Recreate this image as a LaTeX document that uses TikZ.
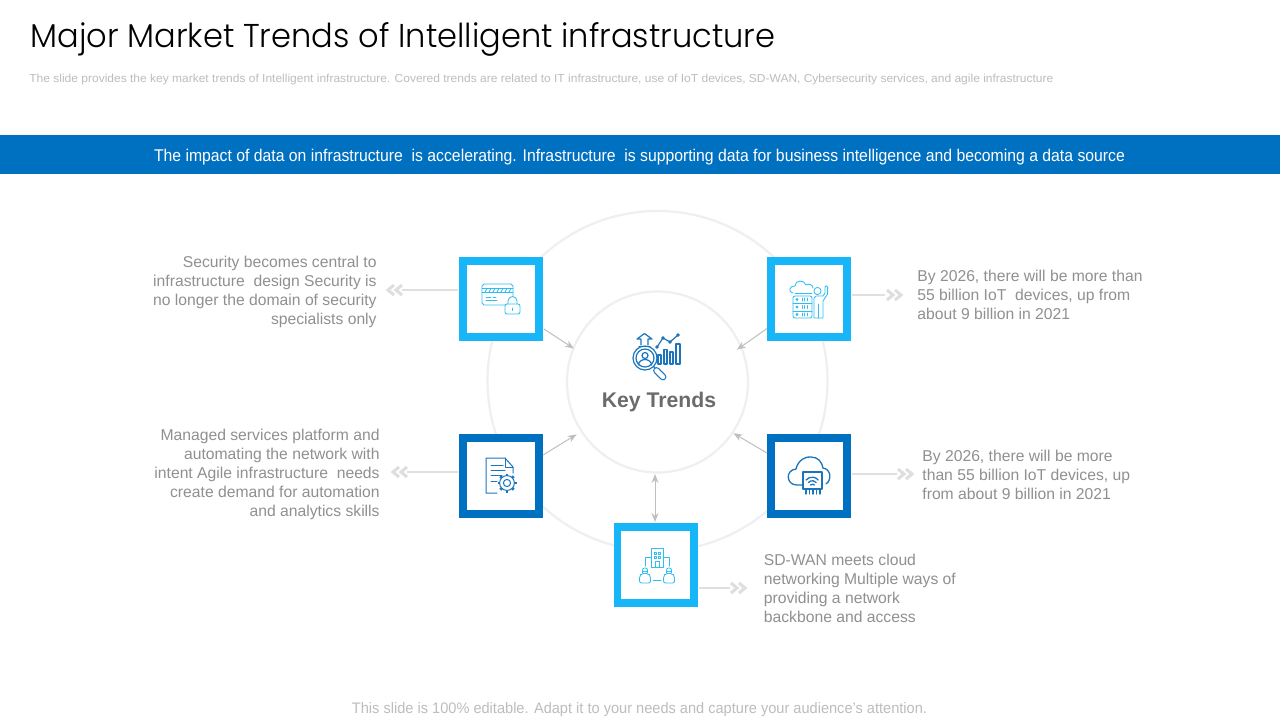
\documentclass[tikz,border=0pt]{standalone}
\usepackage{fontspec}
\usepackage{graphicx}
\setmainfont{Liberation Sans}
\newfontfamily\titlef{Poppins Light}
\usetikzlibrary{arrows.meta}
\definecolor{lblue}{HTML}{17B6F8}
\definecolor{dblue}{HTML}{0070C0}
\definecolor{icl}{HTML}{2FBEF2}
\definecolor{icd}{HTML}{1B75BC}
\definecolor{bodygray}{HTML}{909090}
\definecolor{palegray}{HTML}{BDBDBD}
\definecolor{ringgray}{HTML}{EFEFEF}
\definecolor{chevgray}{HTML}{DEDEDE}
\definecolor{linegray}{HTML}{E0E0E0}
\definecolor{arrgray}{HTML}{BFBFBF}
\newcommand\fitw[2]{\resizebox{#1}{\height}{#2}}
\newcommand\chevR[2]{%
  \draw[chevstroke] (#1,#2-5) -- (#1+6,#2) -- (#1,#2+5);
  \draw[chevstroke] (#1+8,#2-5) -- (#1+14,#2) -- (#1+8,#2+5);}
\newcommand\chevL[2]{%
  \draw[chevstroke] (#1+6,#2-5) -- (#1,#2) -- (#1+6,#2+5);
  \draw[chevstroke] (#1+14,#2-5) -- (#1+8,#2) -- (#1+14,#2+5);}
\tikzset{
  tile/.style={draw=#1,line width=3.8pt,fill=white,minimum size=38.2pt,inner sep=0pt,rectangle},
  ringline/.style={draw=ringgray,line width=1.1pt},
  chevstroke/.style={draw=chevgray,line width=1.5pt},
  sideline/.style={draw=linegray,line width=0.55pt},
  flow/.style={draw=arrgray,line width=0.5pt,-{Stealth[length=4.5pt,width=3.5pt]}},
  bothflow/.style={draw=arrgray,line width=0.5pt,{Stealth[length=4.5pt,width=3.5pt]}-{Stealth[length=4.5pt,width=3.5pt]}},
  bodytext/.style={text=bodygray,inner sep=0pt,font=\fontsize{7.85}{9.5}\selectfont},
  icL/.style={draw=icl,line width=0.42pt,line join=round,line cap=round},
  icD/.style={draw=icd,line width=0.5pt,line join=round,line cap=round},
}
\begin{document}
\begin{tikzpicture}[x=0.5pt,y=-0.5pt]
\useasboundingbox (0,0) rectangle (1280,720);
\fill[white] (0,0) rectangle (1280,720);
% header
\node[anchor=west,inner sep=0pt,text=black] (title) at (30,39) {\fitw{372.5pt}{\titlef\fontsize{16.5}{20}\selectfont Major Market Trends of Intelligent infrastructure}};
\node[anchor=west,inner sep=0pt,text=palegray] (sub) at (29,79) {\fitw{512pt}{\fontsize{5.8}{7}\selectfont The slide provides the key market trends of Intelligent infrastructure. Covered trends are related to IT infrastructure, use of IoT devices, SD-WAN, Cybersecurity services, and agile infrastructure}};
\fill[dblue] (0,135) rectangle (1280,174);
\node[inner sep=0pt,text=white] (banner) at (639.5,157) {\fitw{485.5pt}{\fontsize{8.5}{10}\selectfont The impact of data on infrastructure\ \ is accelerating. Infrastructure\ \ is supporting data for business intelligence and becoming a data source}};
% rings
\node[circle,minimum size=170pt,inner sep=0pt,ringline] (outer) at (657.5,381) {};
\node[circle,minimum size=90.5pt,inner sep=0pt,ringline,fill=white] (c) at (657.5,382) {};
\node[inner sep=0pt,text=black!58,font=\fontsize{10.6}{13}\selectfont\bfseries] (kt) at (659,402) {Key Trends};
% tiles
\node[tile=lblue] (tl) at (501,299) {};
\node[tile=lblue] (tr) at (809,299) {};
\node[tile=dblue] (ml) at (501,476) {};
\node[tile=dblue] (mr) at (809,476) {};
\node[tile=lblue] (bt) at (655.5,565) {};
% arrows to centre
\coordinate (tlo) at (544,329);
\coordinate (tro) at (767,328.5);
\coordinate (mlo) at (543,455);
\coordinate (mro) at (767,453);
\coordinate (bto) at (655,522);
\draw[flow,shorten >=-0.8pt] (tlo) -- (c.158);
\draw[flow,shorten >=-3pt] (tro) -- (c.23);
\draw[flow,shorten >=2.4pt] (mlo) -- (c.213);
\draw[flow] (mro) -- (c.-34);
\draw[bothflow] (bto) -- (655,474);
% side lines
\coordinate (a1) at (402,290);\coordinate (s1) at (458,290);
\coordinate (a2) at (885,295);\coordinate (s2) at (852,295);
\coordinate (a3) at (407,472);\coordinate (s3) at (458,472);
\coordinate (a4) at (897,474);\coordinate (s4) at (852,474);
\coordinate (a5) at (730,588);\coordinate (s5) at (699,588);
\draw[sideline] (s1) -- (a1);
\draw[sideline] (s2) -- (a2);
\draw[sideline] (s3) -- (a3);
\draw[sideline] (s4) -- (a4);
\draw[sideline] (s5) -- (a5);
\chevL{388}{290}
\chevR{887}{295}
\chevL{393}{472}
\chevR{898}{474}
\chevR{731}{588}
% texts
\node[bodytext,anchor=east,align=right] (t1) at (377,291.5) {Security becomes central to\\infrastructure\ \ design Security is\\no longer the domain of security\\specialists only};
\node[bodytext,anchor=west,align=left] (t2) at (917,295) {By 2026, there will be more than\\55 billion IoT\ \ devices, up from\\about 9 billion in 2021};
\node[bodytext,anchor=east,align=right] (t3) at (380,474.5) {Managed services platform and\\automating the network with\\intent Agile infrastructure\ \ needs\\create demand for automation\\and analytics skills};
\node[bodytext,anchor=west,align=left] (t4) at (922,475) {By 2026, there will be more\\than 55 billion IoT devices, up\\from about 9 billion in 2021};
\node[bodytext,anchor=west,align=left] (t5) at (763.5,588) {SD-WAN meets cloud\\networking Multiple ways of\\providing a network\\backbone and access};
\node[inner sep=0pt,text=palegray] (foot) at (639.5,709.5) {\fitw{287.5pt}{\fontsize{7.6}{9}\selectfont This slide is 100\% editable. Adapt it to your needs and capture your audience's attention.}};
% ---- icon: card + lock
\begin{scope}[icL]
\draw (505,305) -- (484,305) -- ++(-2,-2) -- (482,286) -- ++(2,-2) -- (511,284) -- ++(2,2) -- (513,296);
\draw (482,288) -- (513,288) (482,292.5) -- (513,292.5);
\foreach \x in {485,489,...,511} \draw (\x,292) -- (\x+2,288.5);
\draw (486,297) -- (491,297) (493,297) -- (496,297) (486,300) -- (497,300);
\draw[rounded corners=1pt] (505,304) rectangle (520,314);
\draw (508,304) -- (508,301) arc (180:360:4.5) -- (517,304);
\draw (512.5,308) -- (512.5,310.5);
\end{scope}
% ---- icon: cloud, server, person
\begin{scope}[icL]
\draw (793,293) .. controls (788,293) and (789,285) .. (795,286)
  .. controls (795,280) and (804,279) .. (806,285)
  .. controls (809,283) and (813,285) .. (813,288);
\draw (795,293) -- (812,293);
\draw[rounded corners=1pt] (793,296) rectangle (812,318);
\draw (793,303) -- (812,303) (793,311) -- (812,311);
\foreach \y in {299.5,307,314.5} {\draw (797,\y) circle (1); \draw (802,\y-1.5) -- (802,\y+1.5) (804.5,\y-1.5) -- (804.5,\y+1.5) (807,\y-1.5) -- (807,\y+1.5);}
\draw (817.5,291) circle (3.6);
\draw (814,318) -- (814,298) -- ++(2,-2) -- (823,296) -- (825,293) -- (825,287) arc (180:360:1.3) -- (827.6,294) -- (823,301) -- (823,318) -- cycle;
\draw (818.5,304) -- (818.5,318);
\end{scope}
% ---- icon: document + gear
\begin{scope}[icD]
\draw (497,493) -- (486,493) -- (486,458) -- (505,458) -- (513,467) -- (513,473);
\draw (505,458) -- (505,467) -- (513,467);
\draw (491,465) -- (503,465) (491,470) -- (505,470) (491,475.5) -- (502,475.5) (491,481) -- (497,481);
\foreach \a in {0,45,...,315} \draw[line width=1.3pt,line cap=butt] (507,483)++(\a:7.4) -- ++(\a:2.1);
\draw (507,483) circle (7.4);
\draw (507,483) circle (3.6);
\end{scope}
% ---- icon: cloud + chip
\begin{scope}[icD,line width=0.65pt]
\draw (803,485) -- (797,485) .. controls (786,485) and (785,470) .. (796,469)
  .. controls (798,460) and (806,456) .. (811,457)
  .. controls (818,457) and (822,462) .. (823,468)
  .. controls (831,469) and (832,480) .. (826,484);
\draw (803,472) -- (822,472) -- (822,489) -- (803,489) -- cycle;
\draw (806,489) -- (806,494) (809.5,489) -- (809.5,494) (813,489) -- (813,494) (816.5,489) -- (816.5,494) (820,489) -- (820,494);
\draw (806,480) arc (220:320:8);
\draw (808.5,482.5) arc (220:320:5);
\draw (810.5,485) arc (220:320:2.5);
\end{scope}
% ---- icon: network
\begin{scope}[icL]
\draw (651,567) -- (651,548) -- (663,548) -- (663,567) -- cycle;
\draw (654,552) rectangle (656,554) (658,552) rectangle (660,554) (654,556.5) rectangle (656,558.5) (658,556.5) rectangle (660,558.5);
\draw (655,567) -- (655,561.5) -- (659,561.5) -- (659,567);
\draw (651,557) -- (645,557) -- (645,566);
\draw (663,557) -- (669,557) -- (669,566);
\foreach \x in {645,669} {
  \draw[rounded corners=1pt] (\x-2.5,573) -- (\x-2.5,568) -- (\x+2.5,568) -- (\x+2.5,573);
  \draw (\x-2.5,571) -- (\x+2.5,571);
  \draw[rounded corners=1pt] (\x-5.5,583) -- (\x-5.5,576) -- ++(2,-2.5) -- (\x+3.5,573.5) -- ++(2,2.5) -- (\x+5.5,583) -- cycle;
}
\draw (653,580) -- (661,580);
\end{scope}
% ---- icon: key trends
\begin{scope}[icD,line width=0.6pt]
\draw (641,345) -- (641,339) -- (637,339) -- (644.5,333.5) -- (652,339) -- (648,339) -- (648,345);
\draw (639,346.5) -- (650,346.5);
\draw (645,358) circle (12);
\draw (645,358) circle (9);
\draw (645,355.5) circle (3);
\draw (638.5,365) arc (180:360:6.5 and 5.5);
\draw (653.5,366.5) -- (656,369);
\draw[line width=3.4pt] (656.5,370.5) -- (663,377);
\draw[draw=white,line width=2.2pt] (656.5,370.5) -- (663,377);
\draw (657,347) -- (663,338) -- (670,342) -- (678,335);
\foreach \p in {(657,347),(663,338),(670,342),(678,335)} \draw[fill=white] \p circle (1.3);
\draw (658,364) -- (658,355) -- (661,355) -- (661,364) -- cycle;
\draw (664,364) -- (664,349.5) -- (667,349.5) -- (667,364) -- cycle;
\draw (670,364) -- (670,352) -- (673,352) -- (673,364) -- cycle;
\draw (676,364) -- (676,344) -- (680,344) -- (680,364) -- cycle;
\end{scope}
\end{tikzpicture}
\end{document}
